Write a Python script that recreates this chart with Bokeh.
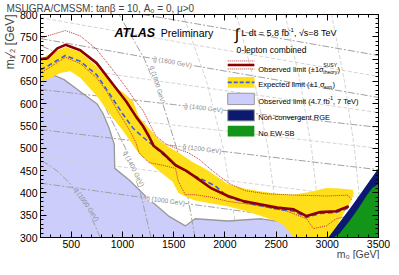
import math
from bokeh.plotting import figure
from bokeh.models import Label, LinearAxis, FixedTicker, Title
from bokeh.embed import file_html
from bokeh.resources import INLINE

# ---------------- data ----------------
obs_m0  = [200, 267, 364, 443, 588, 748, 909, 1037, 1133, 1200, 1258, 1306, 1393, 1518, 1620, 1710, 1870, 2030, 2190, 2355, 2510, 2672, 2798, 2932, 3086, 3210]
obs_m12 = [700, 702, 724, 732, 720, 691, 643, 605, 571, 550, 527, 505, 490, 462, 450, 436, 410, 393, 381, 374, 367, 363, 348, 357, 359, 370]

exp_m0  = [200, 267, 443, 588, 748, 880, 1000, 1104, 1200, 1306, 1400, 1489, 1600, 1682, 1800, 1903, 2030, 2190, 2355, 2510, 2672, 2798, 2932, 3086, 3210]
exp_m12 = [676, 684, 708, 695, 665, 620, 578, 545, 525, 505, 485, 468, 452, 440, 428, 416, 391, 379, 371, 364, 359, 345, 354, 356, 366]

thup_m0  = [200, 267, 443, 588, 748, 909, 1037, 1133, 1200, 1258, 1325, 1422, 1520, 1643, 1750, 1850, 1950, 2050, 2200, 2400, 2700, 3000, 3200, 3235]
thup_m12 = [746, 752, 764, 752, 722, 675, 636, 604, 585, 558, 528, 510, 500, 490, 475, 455, 437, 420, 405, 398, 395, 393, 395, 385]

thdn_m0  = [200, 267, 443, 588, 748, 845, 950, 1066, 1133, 1162, 1258, 1393, 1518, 1547, 1614, 1710, 1874, 2028, 2190, 2355, 2605, 2798, 2865, 2990, 3086, 3201, 3230]
thdn_m12 = [670, 678, 704, 690, 658, 628, 585, 542, 512, 490, 468, 462, 455, 425, 396, 396, 390, 381, 376, 370, 359, 342, 320, 326, 342, 348, 360]

band_hi_m0  = [200, 267, 443, 588, 748, 909, 1008, 1104, 1162, 1258, 1355, 1450, 1550, 1680, 1800, 1900, 2028, 2190, 2355, 2510, 2672, 2830, 2990, 3120, 3250]
band_hi_m12 = [698, 709, 727, 716, 684, 640, 625, 605, 570, 545, 520, 503, 490, 470, 455, 440, 420, 410, 403, 398, 396, 402, 411, 410, 407]
band_end_m0  = [3258, 3230, 3150, 3060, 3030]
band_end_m12 = [398, 380, 350, 310, 290]
band_lo_m0  = [200, 267, 392, 492, 588, 748, 873, 1008, 1162, 1325, 1489, 1547, 1614, 1710, 1870, 2028, 2190, 2355, 2480, 2560, 2640, 2700, 2990]
band_lo_m12 = [650, 654, 669, 673, 658, 618, 578, 538, 488, 455, 425, 400, 392, 383, 376, 370, 360, 348, 338, 330, 310, 290, 290]

lav_m0  = [200, 340, 430, 590, 750, 810, 870, 920, 925, 1066, 1229, 1451, 1614, 1710, 2028, 2355, 2672, 2990, 3045]
lav_m12 = [662, 663, 654, 627, 600, 578, 545, 509, 455, 429, 392, 348, 326, 342, 337, 342, 331, 320, 316]

nc_m0  = [3010, 3250, 3500, 3500]
nc_m12 = [300, 374, 455, 300]
ewsb_m0  = [3060, 3120, 3220, 3310, 3390, 3440, 3500, 3500]
ewsb_m12 = [300, 309, 338, 367, 396, 411, 420, 300]

# gluino mass contours (m1/2 at m0 = 200, 1500, 3500)
gl_m0 = [200, 1500, 3500]
gl_lab = {1000: [422, 380, 317], 1200: [542, 506, 452], 1400: [632, 598, 547],
          1600: [746, 693, 614], 1800: [840, 788, 708]}
gl_light = {1100: [482, 443, 385], 1300: [587, 552, 500], 1500: [689, 646, 580], 1700: [793, 740, 661]}
# squark mass contours
sq1000_m0  = [783, 688, 630, 559, 472, 359, 265, 205]
sq1000_m12 = [300, 350, 375, 400, 425, 450, 465, 472]
sq1400_m0  = [1279, 1176, 1030, 815, 663, 443, 306, 204]
sq1400_m12 = [300, 400, 500, 600, 650, 700, 720, 730]
sq1800_m0  = [1708, 1632, 1530, 1394, 1215, 967]
sq1800_m12 = [300, 400, 500, 600, 700, 800]
sq_light_m12 = [300, 500, 650, 800]
sq_light = {2200: [2125, 1985, 1822, 1592], 2600: [2537, 2421, 2289, 2111],
            3000: [2945, 2846, 2735, 2588], 3400: [3352, 3265, 3168, 3042],
            3800: [3757, 3680, 3594, 3484]}

x_ticks = [500, 1000, 1500, 2000, 2500, 3000, 3500]
y_ticks = [300, 350, 400, 450, 500, 550, 600, 650, 700, 750, 800]
x_minor = list(range(200, 3501, 100))
y_minor = list(range(300, 801, 10))

# ---------------- layout ----------------
W, H = 391, 259
FL, FT, FR, FB = 35, 12, 13, 22
XA, XB, YA, YB = 200, 3500, 300, 800
FONT = "Liberation Sans"

def X(wx):   # reference px -> data x
    return XA + (wx - 43) * (XB - XA) / 343
def Y(wy):
    return YB - (wy - 15) * (YB - YA) / 228.5

HW = {' ': 278, '(': 333, ')': 333, ',': 278, '-': 333, '.': 278, '/': 278, ':': 278, '=': 584,
      '>': 584, '±': 584, '[': 278, ']': 278, 'A': 667, 'B': 667, 'C': 722, 'D': 722, 'E': 667,
      'G': 778, 'L': 556, 'M': 833, 'N': 722, 'O': 778, 'R': 722, 'S': 667, 'T': 611, 'U': 722,
      'V': 667, 'W': 944, 'Y': 667, 'a': 556, 'b': 556, 'c': 500, 'd': 556, 'e': 556, 'f': 278,
      'g': 556, 'h': 556, 'i': 222, 'l': 222, 'm': 833, 'n': 556, 'o': 556, 'p': 556, 'r': 333,
      's': 500, 't': 278, 'u': 556, 'v': 500, 'x': 500, 'y': 500, 'σ': 600, 'β': 570, 'μ': 576, '√': 549}
def tw(s, size):
    return sum(HW.get(c, 556) for c in s) * size / 1000.0

OBS_C = "#8c0000"
DOT_C = "#c03030"
EXP_C = "#3a5ce0"
YEL_C = "#ffdf1a"
LAV_C = "#cccdfa"
NC_C = "#0b1a70"
EW_C = "#13951a"

p = figure(width=W, height=H, x_range=(XA, XB), y_range=(YA, YB),
           output_backend="svg", toolbar_location=None,
           min_border_left=FL, min_border_top=FT,
           min_border_right=FR, min_border_bottom=FB)
p.grid.visible = False
p.outline_line_color = "black"
p.background_fill_color = "white"
p.border_fill_color = "white"

def style_axis(ax, ticks, minor):
    ax.ticker = FixedTicker(ticks=ticks, minor_ticks=minor)
    ax.major_tick_in = 6
    ax.major_tick_out = 0
    ax.minor_tick_in = 3
    ax.minor_tick_out = 0
    ax.axis_line_color = "black"
    ax.major_tick_line_color = "black"
    ax.minor_tick_line_color = "black"
    ax.major_label_text_font = FONT
    ax.major_label_text_font_size = "10.5px"
    ax.major_label_text_color = "black"

style_axis(p.xaxis[0], x_ticks, x_minor)
style_axis(p.yaxis[0], y_ticks, y_minor)
p.xaxis[0].major_label_standoff = 2
p.yaxis[0].major_label_standoff = 3

# tick-only axes on top and right (no labels): one for long ticks, one for short ticks
def tick_axis(side, positions, length):
    ax = LinearAxis(ticker=FixedTicker(ticks=[], minor_ticks=positions),
                    minor_tick_in=length, minor_tick_out=0, major_tick_in=0, major_tick_out=0,
                    major_label_standoff=0, axis_line_color="black",
                    minor_tick_line_color="black")
    p.add_layout(ax, side)

tick_axis("above", x_ticks, 6)
tick_axis("above", x_minor, 3)
tick_axis("right", y_ticks, 6)
tick_axis("right", y_minor, 3)

# titles (outside the frame)
p.add_layout(Title(text="MSUGRA/CMSSM: tanβ = 10, A\u2080 = 0, μ>0", align="left", offset=-34,
                   standoff=1, text_font=FONT, text_font_size="10px", text_font_style="normal"),
             "above")
p.add_layout(Title(text="m\u2081\u2044\u2082 [GeV]", align="right", offset=0, standoff=0,
                   text_font=FONT, text_font_size="12px", text_font_style="normal"), "left")
p.add_layout(Title(text="m\u2080 [GeV]", align="right", offset=-1, standoff=-9,
                   text_font=FONT, text_font_size="10.5px", text_font_style="normal"), "below")

# ---------------- regions and curves ----------------
p.patch(lav_m0 + [3010, 200], lav_m12 + [300, 300], fill_color=LAV_C, line_color=None)

for m, ys in gl_light.items():
    p.line(gl_m0, ys, line_color="#d4d4d4", line_width=1, line_dash="4 2")
for m, xs in sq_light.items():
    p.line(xs, sq_light_m12, line_color="#d4d4d4", line_width=1, line_dash="4 2")
for m, ys in gl_lab.items():
    p.line(gl_m0, ys, line_color="#a0a0a0", line_width=1, line_dash="7 2 2 2")
for xs, ys in [(sq1000_m0, sq1000_m12), (sq1400_m0, sq1400_m12), (sq1800_m0, sq1800_m12)]:
    p.line(xs, ys, line_color="#a0a0a0", line_width=1, line_dash="7 2 2 2")

p.line(lav_m0, lav_m12, line_color="#999999", line_width=1.3)

p.patch(band_hi_m0 + band_end_m0 + band_lo_m0[::-1],
        band_hi_m12 + band_end_m12 + band_lo_m12[::-1],
        fill_color=YEL_C, line_color=None)

p.line(thup_m0, thup_m12, line_color=DOT_C, line_width=1, line_dash="1 1")
p.line(thdn_m0, thdn_m12, line_color=DOT_C, line_width=1, line_dash="1 1")
p.line(exp_m0, exp_m12, line_color=EXP_C, line_width=1.6, line_dash="5 3")
p.line(obs_m0, obs_m12, line_color=OBS_C, line_width=2.6)

p.patch(nc_m0, nc_m12, fill_color=NC_C, line_color=None)
p.patch(ewsb_m0, ewsb_m12, fill_color=EW_C, line_color=None)

# ---------------- legend swatches ----------------
lx0, lx1 = X(233), X(260)
p.line([lx0, lx1], [Y(62.6), Y(62.6)], line_color=DOT_C, line_width=1, line_dash="1 1")
p.line([lx0, lx1], [Y(70.8), Y(70.8)], line_color=DOT_C, line_width=1, line_dash="1 1")
p.line([lx0, lx1], [Y(66.7), Y(66.7)], line_color=OBS_C, line_width=2.6)
p.quad(left=[lx0], right=[lx1], top=[Y(79)], bottom=[Y(90)], fill_color=YEL_C, line_color=None)
p.line([lx0, lx1], [Y(84.5), Y(84.5)], line_color=EXP_C, line_width=1.6, line_dash="4 2")
p.quad(left=[lx0], right=[lx1], top=[Y(95.7)], bottom=[Y(107.3)], fill_color=LAV_C, line_color="#999999", line_width=1)
p.quad(left=[lx0], right=[lx1], top=[Y(112.7)], bottom=[Y(124)], fill_color=NC_C, line_color="#999999", line_width=1)
p.quad(left=[lx0], right=[lx1], top=[Y(129)], bottom=[Y(140)], fill_color=EW_C, line_color=None)

# ---------------- texts inside the frame ----------------
def txt(x, y, s, size, color="black", align="left", baseline="alphabetic", angle=0.0,
        style="normal", bg=None):
    lab = Label(x=x, y=y, text=s, text_font=FONT, text_font_size=f"{size}px",
                text_color=color, text_align=align, text_baseline=baseline,
                angle=angle, text_font_style=style)
    if bg is not None:
        lab.background_fill_color = bg
    p.add_layout(lab)

txt(X(118), Y(33.5), "ATLAS", 12.5, style="bold italic")
txt(X(165), Y(33.5), "Preliminary", 10.5)
txt(X(240), Y(35.5), "∫", 16)
m1 = "L dt = 5.8 fb"
txt(X(247), Y(34), m1, 9)
txt(X(247 + tw(m1, 9)), Y(30.5), "-1", 6)
txt(X(247 + tw(m1, 9) + tw("-1", 6)), Y(34), ",  √s=8 TeV", 9)
txt(X(242), Y(51), "0-lepton combined", 8.5)

LT = 264
FS = 7.5
r1 = "Observed limit (±1σ"
txt(X(LT), Y(71), r1, FS)
txt(X(LT + tw(r1, FS) + 0.5), Y(66.3), "SUSY", 5)
txt(X(LT + tw(r1, FS) + 0.5), Y(73.5), "theory", 5)
txt(X(LT + tw(r1, FS) + 1 + tw("theory", 5)), Y(71), ")", FS)
r2 = "Expected limit (±1 σ"
txt(X(LT), Y(87), r2, FS)
txt(X(LT + tw(r2, FS) + 0.3), Y(89), "exp", 5)
txt(X(LT + tw(r2, FS) + 0.8 + tw("exp", 5)), Y(87), ")", FS)
r3 = "Observed limit (4.7 fb"
txt(X(LT), Y(104), r3, FS)
txt(X(LT + tw(r3, FS)), Y(100.5), "-1", 5)
txt(X(LT + tw(r3, FS) + tw("-1", 5)), Y(104), ", 7 TeV)", FS)
txt(X(LT), Y(121), "Non-convergent RGE", FS)
txt(X(LT), Y(137.2), "No EW-SB", FS)

LBL_C = "#8a8a8a"
clabels = [("g\u0303 (1600 GeV)", 177, 63.5, -10, "white"),
           ("g\u0303 (1400 GeV)", 208.5, 110.5, -6.6, "white"),
           ("g\u0303 (1200 GeV)", 207, 152.5, -7, "white"),
           ("g\u0303 (1000 GeV)", 170, 205.5, -8, "white"),
           ("q\u0303 (1800 GeV)", 162, 87, -72.8, "white"),
           ("q\u0303 (1400 GeV)", 138, 173, -63, "white"),
           ("q\u0303 (1000 GeV)", 90, 209.5, -55.6, LAV_C)]
for s, wx, wy, ang, bg in clabels:
    txt(X(wx), Y(wy), s, 6.5, color=LBL_C, align="center", baseline="middle",
        angle=math.radians(ang), bg=bg)

open("out.html", "w").write(file_html(p, INLINE))
